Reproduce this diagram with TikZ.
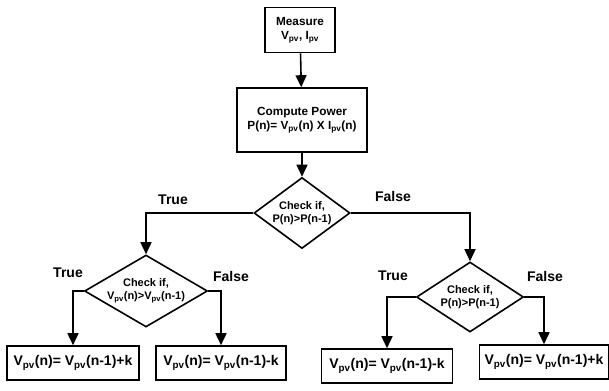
\documentclass[tikz,border=0pt]{standalone}
\usepackage{fontspec}
\setmainfont{Liberation Sans}
\usepackage{tikz}
\usetikzlibrary{shapes.geometric,arrows.meta,positioning}

\newcommand{\subpv}{\textsubscript{pv}}

\begin{document}
\begin{tikzpicture}[
    x=1pt, y=-1pt,
    line width=1.6pt,
    >={Triangle[length=12pt,width=11pt]},
    box/.style={rectangle, draw, align=center, inner sep=2pt, font=\fontsize{11.8}{14}\selectfont\bfseries},
    outbox/.style={rectangle, draw, minimum height=34pt, inner sep=2pt, font=\fontsize{14}{16}\selectfont\bfseries},
    check/.style={diamond, draw, inner sep=0pt},
    checktext/.style={align=center, font=\fontsize{11}{13}\selectfont\bfseries},
    branch/.style={font=\fontsize{14}{16}\selectfont\bfseries},
]
    \useasboundingbox (0,0) rectangle (609,390);

    % top column
    \node[box, minimum width=70pt, minimum height=45pt] (measure) at (300,30) {Measure\\V\subpv, I\subpv};
    \node[box, minimum width=130pt, minimum height=64pt] (power) at (302,120) {Compute Power\\P(n)= V\subpv(n) X I\subpv(n)};

    % first check
    \node[check, minimum width=96pt, minimum height=71pt] (chk-p) at (302,213) {};
    \node[checktext] (chk-p-txt) at (chk-p) {Check if,\\P(n)>P(n-1)};

    % left check (voltage)
    \node[check, minimum width=123pt, minimum height=72pt] (chk-v) at (146,291) {};
    \node[checktext] (chk-v-txt) at (chk-v) {Check if,\\V\subpv(n)>V\subpv(n-1)};

    % right check (power)
    \node[check, minimum width=107pt, minimum height=70pt] (chk-q) at (470,297) {};
    \node[checktext] (chk-q-txt) at (chk-q) {Check if,\\P(n)>P(n-1)};

    % outputs
    \node[outbox, minimum width=132pt] (inc-l) at (73,363) {V\subpv(n)= V\subpv(n-1)+k};
    \node[outbox, minimum width=130pt] (dec-l) at (221,363) {V\subpv(n)= V\subpv(n-1)-k};
    \node[outbox, minimum width=131pt] (dec-r) at (387,366) {V\subpv(n)= V\subpv(n-1)-k};
    \node[outbox, minimum width=129pt] (inc-r) at (544,362) {V\subpv(n)= V\subpv(n-1)+k};

    % connectors
    \draw[->] (measure) -- (power);
    \draw[->] (power) -- (chk-p);
    \draw[->] (chk-p.west) -| (chk-v.north);
    \draw[->] (chk-p.east) -| (chk-q.north);
    \draw[->] (chk-v.west) -| (inc-l.north);
    \draw[->] (chk-v.east) -| (dec-l.north);
    \draw[->] (chk-q.west) -| (dec-r.north);
    \draw[->] (chk-q.east) -| (inc-r.north);

    % branch labels
    \node[branch] (t1) at (173,200) {True};
    \node[branch] (f1) at (393,196) {False};
    \node[branch] (t2) at (68,273) {True};
    \node[branch] (f2) at (231,276) {False};
    \node[branch] (t3) at (393,276) {True};
    \node[branch] (f3) at (545,276) {False};

\end{tikzpicture}
\end{document}
